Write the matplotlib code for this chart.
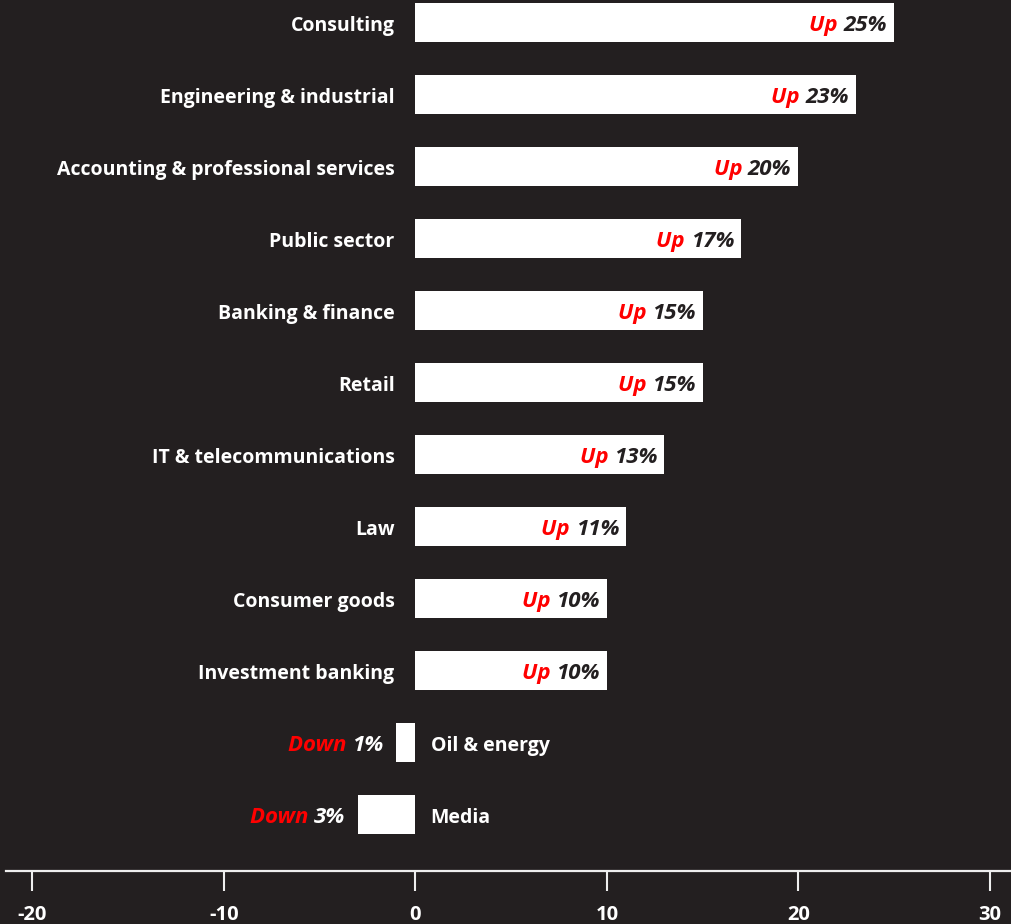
import matplotlib
matplotlib.use("Agg")
import matplotlib.pyplot as plt

# Change in hiring by sector (%)
sectors = [
    "Consulting",
    "Engineering & industrial",
    "Accounting & professional services",
    "Public sector",
    "Banking & finance",
    "Retail",
    "IT & telecommunications",
    "Law",
    "Consumer goods",
    "Investment banking",
    "Oil & energy",
    "Media",
]
changes = [25, 23, 20, 17, 15, 15, 13, 11, 10, 10, -1, -3]
ticks = [-20, -10, 0, 10, 20, 30]

BG = "#231f20"
RED = "#ff0000"
WHITE = "#ffffff"
FONT = "Open Sans"

fig = plt.figure(figsize=(10.12, 9.24), dpi=100, facecolor=BG)
ax = fig.add_axes([6 / 1012, (924 - 871) / 924, 1006 / 1012, 871 / 924])
ax.set_facecolor(BG)

ypos = list(range(len(sectors)))
ax.barh(ypos, changes, height=0.54, color=WHITE, edgecolor="none", zorder=2)

ax.set_xlim(-21.37, 31.15)
ax.set_ylim(11.785, -0.3125)

label_kw = dict(color=WHITE, fontsize=14, fontweight="bold", family=FONT)
value_kw = dict(fontsize=16, fontweight="bold", style="italic", family=FONT)
DY = -2.5

for y, name, v in zip(ypos, sectors, changes):
    if v >= 0:
        ax.annotate(name, xy=(0, y), xytext=(-15, DY), textcoords="offset points",
                    ha="right", va="center", **label_kw)
        num = ax.annotate(f"{abs(v)}%", xy=(v, y), xytext=(-5, DY),
                          textcoords="offset points", ha="right", va="center",
                          color=BG, **value_kw)
        word = "Up "
    else:
        ax.annotate(name, xy=(0, y), xytext=(11, DY), textcoords="offset points",
                    ha="left", va="center", **label_kw)
        num = ax.annotate(f"{abs(v)}%", xy=(v, y), xytext=(-9, DY),
                          textcoords="offset points", ha="right", va="center",
                          color=WHITE, **value_kw)
        word = "Down "
    ax.annotate(word, xy=(0, 0), xycoords=num, ha="right", va="bottom",
                color=RED, **value_kw)

ax.set_xticks(ticks)
ax.set_xticklabels([str(t) for t in ticks])
ax.set_yticks([])
for side in ("top", "right", "left"):
    ax.spines[side].set_visible(False)
ax.spines["bottom"].set_color("#eeeeee")
ax.spines["bottom"].set_linewidth(1.6)
ax.tick_params(axis="x", direction="out", length=14.5, width=1.5, color="#eeeeee",
               pad=10, labelcolor=WHITE, labelsize=14.5)
for lab in ax.get_xticklabels():
    lab.set_fontweight("bold")
    lab.set_family(FONT)

fig.savefig("out.png", dpi=100, facecolor=BG)
